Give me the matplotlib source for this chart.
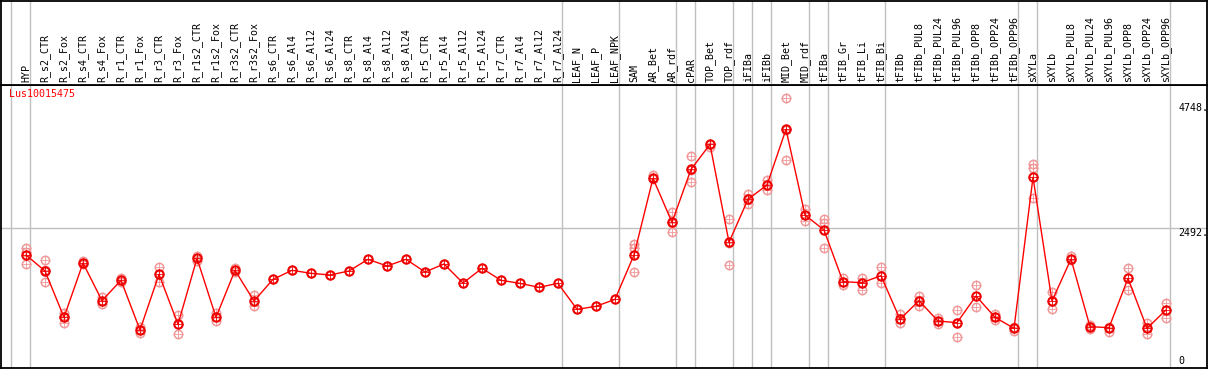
import matplotlib.pyplot as plt
from matplotlib.transforms import blended_transform_factory

# sample names (columns), left to right
samples = ['HYP', 'R_s2_CTR', 'R_s2_Fox', 'R_s4_CTR', 'R_s4_Fox', 'R_r1_CTR', 'R_r1_Fox',
           'R_r3_CTR', 'R_r3_Fox', 'R_r1s2_CTR', 'R_r1s2_Fox', 'R_r3s2_CTR', 'R_r3s2_Fox',
           'R_s6_CTR', 'R_s6_Al4', 'R_s6_Al12', 'R_s6_Al24', 'R_s8_CTR', 'R_s8_Al4',
           'R_s8_Al12', 'R_s8_Al24', 'R_r5_CTR', 'R_r5_Al4', 'R_r5_Al12', 'R_r5_Al24',
           'R_r7_CTR', 'R_r7_Al4', 'R_r7_Al12', 'R_r7_Al24', 'LEAF_N', 'LEAF_P', 'LEAF_NPK',
           'SAM', 'AR_Bet', 'AR_rdf', 'cPAR', 'TOP_Bet', 'TOP_rdf', 'iFIBa', 'iFIBb',
           'MID_Bet', 'MID_rdf', 'tFIBa', 'tFIB_Gr', 'tFIB_Li', 'tFIB_Bi', 'tFIBb',
           'tFIBb_PUL8', 'tFIBb_PUL24', 'tFIBb_PUL96', 'tFIBb_OPP8', 'tFIBb_OPP24',
           'tFIBb_OPP96', 'sXYLa', 'sXYLb', 'sXYLb_PUL8', 'sXYLb_PUL24', 'sXYLb_PUL96',
           'sXYLb_OPP8', 'sXYLb_OPP24', 'sXYLb_OPP96']

# mean expression per sample
means = [2004, 1715, 879, 1859, 1179, 1547, 650, 1655, 752, 1944, 879, 1727, 1173,
         1565, 1727, 1673, 1643, 1715, 1926, 1805, 1926, 1697, 1841, 1498, 1763,
         1547, 1492, 1420, 1492, 1023, 1077, 1203,
         2004, 3388, 2593, 3549, 4001, 2233, 3009, 3267, 4272, 2726, 2455, 1522, 1504,
         1630, 843, 1179, 812, 782, 1264, 879, 680, 3406, 1173, 1931, 710, 692, 1583,
         680, 1011]

# individual replicates (empty where only one sample)
replicates = [[2124, 2052, 1836], [1907, 1727, 1511], [962, 893, 782], [1901, 1841],
              [1240, 1119], [1594, 1522], [698, 590], [1793, 1516], [920, 571],
              [1991, 1901], [951, 818], [1775, 1702], [1282, 1077],
              [], [], [], [], [], [], [], [], [], [], [], [], [], [], [], [], [], [], [],
              [2196, 2124, 1703], [3448, 3369], [2786, 2580, 2413], [3785, 3546, 3316],
              [4007, 3959], [2648, 2228, 1823], [3105, 2924], [3357, 3177],
              [4832, 4266, 3718], [2828, 2617], [2648, 2588, 2124], [1583, 1462],
              [1583, 1372], [1781, 1492], [939, 771], [1269, 1088], [872, 753],
              [1011, 529], [1456, 1071], [939, 830], [710, 637], [3646, 3568, 3027],
              [1330, 1029], [1986, 1913], [740, 662], [710, 619], [1763, 1372],
              [771, 578], [1132, 866]]

# last sample of each group (a separator line follows it)
group_ends = ['HYP', 'R_r7_Al24', 'LEAF_NPK', 'AR_rdf', 'cPAR', 'TOP_rdf', 'iFIBa', 'iFIBb',
              'MID_rdf', 'tFIBa', 'tFIB_Bi', 'tFIBb_OPP96', 'sXYLa', 'sXYLb_OPP96']

y_ticks = [0, 2492, 4748]
gene = 'Lus10015475'

mono = 'DejaVu Sans Mono'
fs = 7.2
W, H = 1209, 370

fig = plt.figure(figsize=(W / 100, H / 100), dpi=100)
# data area and header area share x
ax = fig.add_axes([1 / W, 2 / H, 1206 / W, 283 / H])
hx = fig.add_axes([1 / W, 285 / H, 1206 / W, 84 / H], sharex=ax)

x = list(range(len(samples)))
ax.set_xlim((1 - 26) / 19, (1207 - 26) / 19)
ax.set_ylim(-36, 5072)
hx.set_ylim(0, 1)

for a in (ax, hx):
    a.set_xticks([])
    a.set_yticks([])
    for s in a.spines.values():
        s.set_color('black')
        s.set_linewidth(1.3)

# group separators
seps = [-1] + [samples.index(g) for g in group_ends]
for s in seps:
    ax.axvline(s + 0.23, color='#c0c0c0', lw=1, zorder=0)
    hx.axvline(s + 0.23, color='#c0c0c0', lw=1, zorder=0)

ax.axhline(y_ticks[1], color='#c0c0c0', lw=1, zorder=0)

# replicates
rx, ry = [], []
for i, reps in enumerate(replicates):
    for v in reps:
        rx.append(i)
        ry.append(v)
ax.plot(rx, ry, 'o', ms=6, mfc='none', mec='#f09898', mew=1.1, zorder=2)
ax.plot(rx, ry, '+', ms=7.3, mec='#f09898', mew=0.6, zorder=2)

# means
ax.plot(x, means, '-', color='red', lw=1, zorder=3)
ax.plot(x, means, 'o', ms=6, mfc='none', mec='#ee0000', mew=1.5, zorder=4)
ax.plot(x, means, '+', ms=7.3, mec='#ee0000', mew=0.6, zorder=4)

# labels
for i, name in enumerate(samples):
    hx.text(i, 0.04, name, rotation=90, ha='center', va='bottom',
            family=mono, fontsize=fs, color='black')

ax.text(0.007, 0.985, gene, transform=ax.transAxes, ha='left', va='top',
        family=mono, fontsize=fs, color='red')

tr = blended_transform_factory(ax.transAxes, ax.transData)
ax.text(0.9765, y_ticks[2], '%d.' % y_ticks[2], transform=tr, ha='left', va='top',
        family=mono, fontsize=fs)
ax.text(0.9765, y_ticks[1], '%d.' % y_ticks[1], transform=tr, ha='left', va='top',
        family=mono, fontsize=fs)
ax.text(0.9765, y_ticks[0], '%d' % y_ticks[0], transform=tr, ha='left', va='bottom',
        family=mono, fontsize=fs)

fig.savefig('out.png', dpi=100)
